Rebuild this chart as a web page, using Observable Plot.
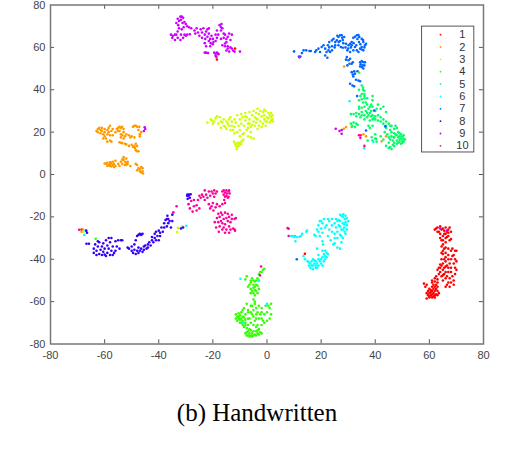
<!DOCTYPE html>
<html><head><meta charset="utf-8">
<script src="https://cdn.jsdelivr.net/npm/d3@7"></script>
<script src="https://cdn.jsdelivr.net/npm/@observablehq/plot@0.6"></script>
<style>
html,body{margin:0;padding:0;background:#fff;overflow:hidden}
#chart{position:absolute;left:0;top:0}
#cap{position:absolute;left:0;width:514px;top:398px;text-align:center;font:25px/30px "Liberation Serif",serif;color:#000}
</style></head><body>
<div id="chart"></div>
<div id="cap">(b) Handwritten</div>
<script>
const labels=["1","2","3","4","5","6","7","8","9","10"];
const colors=["#ff0000","#ff9900","#ccff00","#33ff00","#00ff66","#00ffff","#0066ff","#3300ff","#cc00ff","#ff0099"];
const ticks=[-80,-60,-40,-20,0,20,40,60,80];
const s1=[[62,-26],[62.5,-25.5],[63,-25],[63.5,-27],[64,-24.5],[64,-28],[64.5,-26],[65,-25.5],[65,-29],[65.5,-28],[66,-25],[66,-30],[66.5,-27],[67,-26],[67,-29],[67.5,-25],[68,-27],[68,-30.5],[67.5,-31],[66,-28],[64.5,-34],[65,-36],[65,-33],[65.5,-35],[65,-37.5],[64.5,-37],[66,-32],[66,-37],[67,-35],[68,-36],[68.5,-35],[69.5,-36],[70,-36],[64.5,-40],[65,-42],[65.5,-40],[66,-39],[66.5,-43],[67,-40],[67.5,-42],[68,-44],[68,-40],[69,-42],[69.5,-40],[70,-41],[69.5,-44],[62,-49],[63,-45],[63.5,-47],[64,-44],[64,-46],[64.5,-48],[65,-45],[65,-50],[65.5,-47],[66,-43.5],[66,-49],[66.5,-52],[67,-46],[67.5,-49],[67.5,-53],[68,-51],[68,-46],[69,-50],[69.5,-47],[70,-45],[69,-52],[66,-53],[61,-51],[61.5,-52],[62,-50.5],[62,-53],[62.5,-52],[63,-51],[63,-53],[61,-53],[60,-54],[59,-52],[58,-51.5],[58.5,-53],[59.5,-55],[60,-56],[60.5,-54.5],[61,-55],[61.5,-56],[62,-55],[62.5,-56.5],[63,-55],[63.5,-56],[59.5,-57],[60,-58],[60.5,-57],[61,-58],[61.5,-57.5],[62,-58],[59,-58.5],[14,-37.4],[-11.8,59.5],[-18,56.8],[-18.5,54.3],[-68.5,-26],[60.5,-55.5],[61.5,-54],[62.5,-54],[63,-57],[60,-57.5],[61,-56.5],[62,-57],[59,-56],[61,-50],[62.5,-48],[63,-49.5],[63.5,-44],[64.5,-43],[65.5,-44],[65,-47.5],[66,-46],[66.5,-48],[67,-44],[67,-51],[68.5,-48],[64,-42.5],[66,-41],[67,-38],[68.5,-38.5],[66,-34.5],[64.5,-31],[65,-31],[67,-27.5],[63,-27],[64,-30],[65.5,-26.5],[66.5,-29.5],[69,-38]];
const s2=[[-63,20.5],[-62.5,21.5],[-62,22],[-61.5,21],[-61,20.5],[-61.5,19.5],[-60.5,19],[-60,20],[-60,18],[-59,19],[-59,21],[-58.5,22],[-58,23],[-58.5,20],[-58,18.5],[-57.5,20.5],[-57,21.5],[-59.5,17],[-59,15.5],[-58,16],[-57.5,15.5],[-57,18.5],[-55.5,21.5],[-55,22],[-54.5,22.5],[-54,22],[-53.5,22.5],[-53,21.5],[-54.5,20.5],[-54,19],[-53.5,18.5],[-53,20],[-54,17.5],[-53,17],[-52,19],[-51,18.5],[-50.5,17.5],[-50,18],[-49,17.5],[-49,23],[-48.5,23],[-48,22.5],[-47.5,21],[-47.2,22.5],[-46.5,20],[-47,19],[-47,18],[-54.5,15.2],[-54,15],[-53.5,14.8],[-52.5,14.5],[-52,14.2],[-51,13.5],[-50,14],[-49.5,13],[-49,13.5],[-48.8,12.5],[-48.5,14.5],[-48,13.5],[-48.5,11.5],[-48,11],[-47.5,11],[-60,5.2],[-59.5,5],[-59,5.5],[-58.5,4.5],[-58,5],[-58,4],[-57.5,5.5],[-57,4.5],[-57,6],[-56.5,5],[-56.5,3.5],[-56,6.5],[-56,4],[-55,5],[-54.5,4],[-54,6],[-53.5,5],[-53,7],[-53,8.2],[-52.5,6],[-52,7.5],[-52,5.5],[-52,4.5],[-51.5,6],[-51.5,5],[-50.5,4],[-48.5,5],[-48,4.5],[-47.5,3],[-47,2.5],[-46.5,3.5],[-46,3],[-47,1.5],[-46.5,1],[-46,1.5],[-45.8,0.5],[-48,2],[-34.8,-18.5],[-68,-26],[-68.5,-27],[28.5,51],[29.2,22.4],[28.4,21.6],[31.3,22.4],[35.6,19],[36.6,18],[42.4,15.7],[46.9,17.6],[44,18],[-62.5,20],[-61,22],[-60,21.5],[-60.5,17],[-56,20],[-55,20.5],[-52.5,18],[-58,5.8],[-59,4],[-57.5,3.8],[-52.5,4.5],[-53.5,7],[-49.5,22.5]];
const s3=[[-22,24.5],[-20.8,26],[-20.3,25.5],[-20,24],[-19.5,25],[-19,26.5],[-18.5,27.5],[-18,24],[-17.5,27],[-17,25],[-17,22],[-16.5,24.5],[-16,26],[-15.5,22.5],[-15,25],[-14.5,24],[-14,26],[-13.5,27],[-13,25],[-13,23],[-12.5,21],[-12,22.5],[-12,26],[-11.5,24.5],[-11,20],[-11,28],[-10.5,23],[-10,26],[-10,21],[-9.5,24],[-9,19],[-9.5,28.5],[-9,27],[-8.5,23],[-8,29],[-8,25.5],[-7.5,21],[-7.5,27],[-7,24],[-7,18],[-6.5,29.5],[-6.5,26],[-6,22.5],[-6,20],[-5.5,28],[-5,30],[-5,25],[-5,17],[-4.5,27],[-4.5,23],[-4,29],[-4,24.5],[-3.5,31],[-3.5,26],[-3,28.5],[-3,23],[-2.5,30],[-2.5,25],[-2,27.5],[-1.5,29.5],[-1.5,24],[-1,26],[-1,28],[-0.5,30],[-0.5,23],[0,27],[0,25],[0.5,29],[0.5,26.5],[1,28],[1,24.5],[1.5,27],[1.5,29],[2,26],[2,28],[2.2,25],[-12.2,15.5],[-11.8,14.5],[-11.5,13.5],[-11.2,12],[-11,14.5],[-10.5,13.5],[-10.2,15],[-10,14],[-9.5,15.5],[-9,16],[-9.5,14.5],[-8.7,16.5],[-33.2,-27.2],[-32.9,-25.2],[-31.3,-24.5],[-67.8,-27],[-16,23],[-15,21.5],[-14,23],[-13.5,21],[-12,19.5],[-10,18],[-8.5,19.5],[-7,22],[-6,17.5],[-5.5,23.5],[-3.5,21.5],[-2,22.5],[-8,27.5],[-6.5,24],[-4,26.5],[-1,30.5],[1.5,25.5],[-0.5,25],[-10.8,15],[-11,13]];
const s4=[[-7.5,-48],[-8,-49.5],[-5.5,-49],[-5,-50],[-6,-51],[-6.5,-52],[-5,-52],[-4.5,-50.5],[-4,-50],[-3.5,-49],[-3,-47],[-2.5,-46],[-2,-46],[-1.5,-45],[-1,-44.5],[-7,-53],[-6,-54],[-5.5,-55],[-4.5,-53],[-4,-55],[-3.5,-52.5],[-3,-54],[-3.5,-56],[-4.5,-57],[-5,-53.5],[-5,-56],[-4.5,-54.5],[-5,-59],[-4.5,-60],[-5.5,-62],[-4.5,-61],[-4,-63],[-5,-64],[-8.5,-63],[-8,-66],[-7.5,-61],[-7,-64],[-6.5,-68],[-6,-62],[-5.5,-66],[-5,-67],[-4.5,-69],[-4,-66],[-3.5,-65],[-3,-62],[-3,-68],[-2.5,-66],[-2,-63],[-1.5,-69],[-1,-66],[-0.5,-62],[0,-65],[0,-69],[1,-63],[1.5,-66],[-2,-71],[0.5,-62],[1.5,-61],[-11.5,-66],[-11.5,-68],[-11,-67],[-11,-69],[-10.5,-65.5],[-10.5,-68],[-10,-66.5],[-10,-70],[-9.5,-68],[-9.5,-65],[-9,-67],[-9,-69],[-9,-71],[-8.5,-72],[-8,-70],[-8,-68.5],[-7.5,-72.5],[-7,-71],[-8,-75],[-7.5,-76],[-7,-74],[-7,-76],[-6.5,-75],[-6,-73.5],[-6,-76],[-5.5,-75],[-5,-74],[-5,-76],[-4.5,-75.5],[-4,-74],[-3.5,-75],[-3,-73],[-3,-75.5],[-2.5,-74.5],[-2,-75],[-3.5,-71],[-5,-71],[-4,-72],[34.1,48],[40.3,16.8],[-63.3,-30.3],[10.3,-29],[-6,-50],[-6,-56],[-4,-52],[-3,-50],[-7,-65],[-9,-64],[-6,-65],[-4,-68],[-2,-68],[-6,-70],[-7,-68],[-10.5,-67],[-10,-68.5],[-9.5,-70],[-8.5,-67.5],[-8,-71],[-7.5,-74.5],[-6.5,-73],[-5.5,-76.5],[-4,-76],[-3.5,-73.5],[-6.5,-76.5],[-2,-65],[1,-68],[-1,-70]];
const s5=[[35,42],[35.5,41],[34,40],[36,39.5],[35,38],[36,38],[34.5,37],[36,36],[37,36],[34,35],[35.5,34],[36.5,34],[39,37],[39,35],[38.5,33],[37,33],[36,32],[35,31.5],[34,31],[38,32],[39,32],[41,33],[40.5,31],[40,30],[42,31],[43,32],[44,29.5],[33,29],[32,28.5],[34,28.5],[31,28.5],[35,28],[36,28],[37,29],[38,29],[37,27],[38.5,27.5],[39,28],[39.5,26.5],[40,26],[38,25.5],[41,28],[42,27],[42,25],[43,26],[43,24],[44,25],[44,23],[45,24],[45.5,23],[31,24],[31.5,23],[32,24.5],[32.5,22.5],[33,24],[33.5,23.5],[38,22],[37.5,23],[39,23],[38.7,17.6],[40,19],[40,17],[39,16],[40.5,15.5],[42,18],[43,16.5],[43.5,20],[44,22],[44.5,19],[45,15],[45,17.5],[45.5,13],[45.5,21],[46,23],[46,18],[46.5,14],[47,21.5],[47,15],[47.5,19],[48,14.5],[48,22],[48.5,17.5],[48.5,20],[49,15.5],[49,18],[49.5,14.5],[49.5,17],[50,16],[50,18],[50.5,15.5],[50.5,17],[51,16.5],[47,13.5],[44,13.5],[46,12],[45,12.5],[48,16],[49,19.5],[47.5,23],[37.2,16],[49,16.5],[48.5,15],[50,15],[50.5,18.5],[46.5,16],[47,17.5],[49.5,19],[47,19.5],[45.5,16.5],[46,20],[36,37],[35.5,40],[37.5,31],[38.5,30],[36.5,30],[35,29.5],[37.5,28],[33,27.5],[34.5,27],[36,26],[40,27.5],[41,25.5],[35,35.5],[34,32],[39,26],[48,18.5]];
const s6=[[9.5,-29],[10,-29.5],[11,-29.5],[12,-29.5],[12.5,-29],[13,-28],[14.5,-27],[14.8,-26.5],[10.5,-31.5],[9,-29],[17.5,-28.5],[18,-29],[18.5,-26],[19,-24],[19,-27],[19.5,-22],[20,-25.5],[20.5,-27.5],[20.5,-23],[21,-21],[21.5,-25],[22.5,-21],[22.5,-29],[20.5,-31.5],[20.7,-33],[23,-26],[23.5,-31],[24,-21],[24,-24],[24.5,-33],[25,-28],[25,-32.5],[25.5,-21],[25.5,-25],[26,-30],[26,-27],[26,-34.5],[26.5,-21.5],[26.5,-24],[27,-28.5],[27,-35],[27.5,-32],[27.5,-26],[28,-20],[28,-23],[28,-30],[28.5,-25],[28.7,-21],[28.7,-27],[29,-19.5],[29,-22.5],[29.5,-24],[29.5,-26],[29.5,-20.5],[27.5,-19.5],[28.2,-18.8],[13.5,-38.5],[14,-40],[15,-41],[15.5,-43],[16,-42],[16.5,-41],[17,-43],[17,-40],[17.5,-42],[18,-41],[18,-43],[18.5,-42],[19,-40],[19,-43],[19.5,-41],[19,-38],[18.5,-35],[20,-40],[20.5,-43],[20.5,-39],[21,-37.5],[21,-41],[21.5,-36],[21.5,-38.5],[22,-39],[22,-37],[22.5,-37.5],[20.5,-36],[17,-44.7],[30.5,34.6],[39.3,15.4],[35.9,12.4],[-9.8,-49.2],[-3,-50.3],[0,-61],[-8.8,-70],[-67.5,-28.5],[-67,-26.5],[-29.8,-24.2],[27,-22],[27,-24.5],[26,-22],[25,-23],[25,-30],[24,-27],[23,-22],[22,-24],[20,-22],[19.5,-29],[28,-26],[29,-28],[27.5,-29],[16,-44],[16.5,-43],[18,-44],[15.5,-41.5],[17.5,-40.5],[18.5,-44],[20,-42],[21.5,-40],[27,-19],[29,-21],[28.5,-23.5],[30,-22]];
const s7=[[10,58.1],[12.3,55.7],[11.8,55.7],[12.9,57.3],[13.5,58.6],[14.5,58.6],[15.7,58.3],[16.2,58.3],[17.8,57.8],[18.2,58.6],[19,59.4],[19.6,57.8],[20.2,60.2],[20.9,61],[21.5,59.4],[22,57.8],[22.7,58.6],[21.5,56.2],[22.3,55.1],[23.3,57.8],[24,58.6],[23,62.5],[24,63.3],[24.6,64.1],[25.2,62.5],[26.4,64.9],[27,65.7],[27.6,65.7],[28.5,64.9],[25.8,63.3],[27,63],[25.2,61],[26.4,61],[27.3,60.2],[28.2,62],[29.2,61.7],[30.1,61],[30.7,61.7],[31.3,61],[29.7,58.6],[30.7,57.8],[31.9,58.6],[32.5,60.2],[33.2,58.6],[33.8,57.8],[34.4,59.4],[35.6,58.6],[35,60.2],[36.2,61],[36.6,61.7],[35.6,62.5],[35,64],[34.1,64.9],[33.2,65.7],[32.5,65],[31.9,64.5],[33.4,64],[31.3,62.5],[29.5,55.4],[30.7,54.6],[29.2,54.2],[30.1,53.9],[31.3,52.3],[30.5,52.3],[29.7,51.5],[31.7,53],[34.4,53],[35,53.5],[35.6,53],[36.2,53],[34.6,52],[35.4,51.5],[36,51.5],[35,50.7],[35.6,50],[34.4,51],[31.3,48.3],[32.2,48.7],[31.7,47.2],[32.5,47.6],[31.9,46.3],[33.4,48.7],[32.9,44.7],[33.8,44.4],[34.4,44],[30.7,42.8],[31.6,42],[32.2,41.6],[33.3,37],[39.6,30.2],[43.7,22.7],[36.6,20.8],[11,-40],[25,60],[28,63.5],[29,60],[31,60],[32,62],[33,61],[34,62.5],[34.5,61.5],[35,59],[30,59.5],[28,59.8],[24,60.5],[23,60],[22.5,61],[26,65.5],[27.8,64.5],[33.8,65.8],[35.5,63.5],[36,60],[26.5,62.5]];
const s8=[[-66.7,-32.7],[-65.8,-32.7],[-64,-37],[-64,-35],[-63.5,-33],[-63,-38],[-63,-36],[-62.5,-34],[-62,-37.5],[-62,-32],[-61.5,-35.5],[-61,-38],[-61,-34],[-60.5,-36.5],[-60.5,-32.5],[-60,-37.8],[-60,-35],[-59.5,-38.5],[-59.5,-31],[-59,-33.5],[-59,-37],[-58.5,-30],[-58.5,-35],[-58,-38],[-58,-32],[-57.5,-36],[-57.5,-30],[-57,-38],[-57,-34],[-56.5,-37],[-56,-31.5],[-56,-36],[-55.5,-34],[-55,-31],[-54.5,-35],[-54,-31],[-53.5,-31],[-62.5,-31.5],[-51.5,-34.5],[-51,-35],[-50,-34],[-50,-36],[-49.5,-37],[-49,-33],[-49,-35.5],[-48.5,-37.5],[-48.5,-31],[-48,-36],[-47.5,-34.5],[-47.5,-37],[-47,-36],[-46.5,-35],[-46,-36.5],[-48,-29],[-47.5,-28.5],[-47,-28],[-46.5,-28.5],[-46,-28],[-45.5,-34],[-45.5,-35.5],[-45,-33.5],[-44.5,-35],[-44,-33],[-44,-34.5],[-43.5,-32],[-43,-33.5],[-42.5,-31],[-42.5,-29.5],[-42,-32],[-41.5,-30],[-41.5,-28],[-41,-31],[-41,-27],[-40.5,-29],[-40,-31],[-40,-26.5],[-39.5,-29],[-39.5,-27.5],[-39,-25],[-38.5,-27],[-38,-25],[-38,-23],[-37.5,-21.5],[-37,-24.5],[-37,-21],[-36.5,-23],[-36.8,-19.5],[-36.5,-21],[-36,-22],[-35.5,-25],[-35,-22],[-29.5,-10],[-29.3,-11.5],[-29,-10],[-28.8,-9.5],[-28.5,-11],[-28.2,-9.3],[-29.4,-9.5],[-35,-19],[-31,-25],[-31.8,-25.5],[-66.8,-26.5],[-66.5,-27.5]];
const s9=[[-33,73.5],[-32,74.5],[-31.5,74.5],[-31,74],[-32.5,72.5],[-31.8,73],[-33.5,71.5],[-32.8,70.5],[-31.2,71.5],[-30.5,72],[-30,71],[-29.5,70],[-28.8,69.5],[-28,69],[-30.8,69.5],[-31.5,68.5],[-32.5,69],[-33,67.5],[-34,66],[-34.8,65.5],[-35.5,66],[-35,64.5],[-34,63.5],[-33.5,66],[-31.8,66],[-30.5,66],[-29.5,66],[-31,64.5],[-32,63.5],[-30,65.5],[-28.5,66.2],[-26.8,68],[-26,69],[-25.5,67],[-26.5,66.5],[-25,65.5],[-24.5,68.5],[-24,67],[-23.5,69],[-23,66],[-22.5,67.5],[-22,68.5],[-21.5,69],[-22,65],[-21,64],[-20.5,65.5],[-20,64],[-21.5,63],[-19.8,62.5],[-23,62],[-22.5,60.5],[-21,60.5],[-20,61.5],[-19,63],[-18.5,64.5],[-19,66],[-18,66],[-17.5,70.5],[-16.8,71],[-17,69.5],[-16.5,69],[-17,68],[-18.5,68],[-15.5,66],[-16,64.5],[-17,64],[-15,64],[-14,66.5],[-13,66],[-14.5,65],[-13.5,63.5],[-15,62.5],[-16.5,61],[-15.5,60.5],[-14.5,60.5],[-13.5,60],[-13,59.5],[-15,58.5],[-14,58],[-12.5,58.5],[-12,58],[-10,58],[-23,57.5],[-22.5,57.5],[-21.8,57.3],[-19.5,57.5],[-19,57],[-18.5,57.5],[-19,56],[-18.7,55.5],[-18,57],[-45.2,22.3],[-45,21.5],[-45.5,20.5],[12,55.3],[25.4,21.6],[26.8,20.5],[27.6,21],[27.6,19.2],[64,-25.5],[66.5,-26.5],[-33,64.5],[-24,64.5],[-22.8,64],[-21.5,66.5],[-20.8,62],[-15.5,61.8],[-14.5,59.5],[-16,66.5]];
const s10=[[-29,-14],[-28.5,-16],[-28,-12.5],[-27.5,-17.5],[-27,-15],[-27,-12],[-26,-17],[-26,-14.5],[-25.5,-12],[-25,-10],[-25,-16],[-24.5,-11],[-24,-9.5],[-23.5,-10.5],[-23,-7.5],[-23,-12],[-22.5,-9.5],[-22,-11],[-21.5,-14],[-21.5,-8],[-21,-10],[-20.5,-8],[-20,-9],[-19.5,-10.5],[-19.5,-7.5],[-19,-9],[-18.5,-8],[-18.5,-14],[-21,-16],[-20.5,-15],[-20,-13.5],[-19.8,-17],[-19,-15.5],[-17.5,-15],[-16.5,-14],[-15.8,-12],[-15.5,-13.5],[-16.5,-8],[-16,-9.5],[-16,-7.5],[-15.5,-10.5],[-15.5,-8.5],[-15,-7.5],[-15,-10],[-14.8,-9],[-14.2,-8],[-14.2,-10.5],[-13.8,-9],[-14,-7.5],[-14.5,-11],[-18.5,-20.5],[-18,-22.5],[-18,-18.5],[-17.5,-24.5],[-17.5,-20],[-17,-22],[-17,-18],[-16.5,-26],[-16.5,-23],[-16.5,-19],[-16,-21],[-16,-25],[-15.5,-27.5],[-15.5,-23.5],[-15.5,-18],[-15,-20.5],[-15,-26],[-14.5,-22],[-14.5,-18.5],[-14,-24.5],[-14,-27.5],[-14,-20],[-13.5,-22.5],[-13.5,-26],[-13,-19],[-13,-21],[-12.5,-25.5],[-12,-21],[-12,-26],[-11.8,-26.5],[-11.5,-20.5],[-17.8,-27],[-18.8,-25],[-19.3,-22.5],[-33.4,-15],[-34.6,-17.8],[-2.2,-43.4],[-2.6,-47.6],[34,18.5],[34.6,18.5],[34.5,17.3],[36,13.5],[7.6,-25.3],[8,-25.6],[8,-29],[-69.4,-26.1]];

const series=[s1,s2,s3,s4,s5,s6,s7,s8,s9,s10];
const points=series.flatMap((s,k)=>s.map(([x,y])=>({x,y,k:labels[k]})));
const legend=labels.map((k,i)=>({k,y:66-i*5.83}));
const inward=(ax,at,len)=>ticks.slice(1,-1).map(t=>ax==="x"?{x:t,a:at,b:at+len}:{y:t,a:at,b:at+len});
const tx=[...inward("x",-80,2),...inward("x",80,-2)];
const ty=[...inward("y",-80,1.5),...inward("y",80,-1.5)];
const plot=Plot.plot({
  width:506,height:361,
  marginLeft:50,marginRight:23,marginTop:4.5,marginBottom:17.5,
  style:{background:"transparent",fontFamily:"'Liberation Sans',sans-serif",fontSize:"11px",color:"#444"},
  x:{domain:[-80,80],ticks,tickFormat:d=>d,label:null},
  y:{domain:[-80,80],ticks,tickFormat:d=>d,label:null},
  color:{domain:labels,range:colors},
  marks:[
    Plot.axisX(ticks,{tickSize:0,tickPadding:7,label:null,tickFormat:d=>d,fill:"#444"}),
    Plot.axisY(ticks,{tickSize:0,tickPadding:5,label:null,tickFormat:d=>d,fill:"#444"}),
    Plot.dot(points,{x:"x",y:"y",fill:"k",r:1.3,stroke:null}),
    Plot.ruleX(tx,{x:"x",y1:"a",y2:"b",stroke:"#555"}),
    Plot.ruleY(ty,{y:"y",x1:"a",x2:"b",stroke:"#555"}),
    Plot.frame({stroke:"#777",strokeWidth:1.5}),
    Plot.rect([{}],{x1:()=>57.3,x2:()=>76.6,y1:()=>10.4,y2:()=>69.8,fill:"#fff",stroke:"#555",strokeWidth:1}),
    Plot.dot(legend,{x:()=>64.1,y:"y",fill:"k",r:0.9}),
    Plot.text(legend,{x:()=>72.2,y:"y",text:"k",fill:"#333",fontSize:11,textAnchor:"middle"})
  ]
});
document.getElementById("chart").append(plot);
</script>
</body></html>
